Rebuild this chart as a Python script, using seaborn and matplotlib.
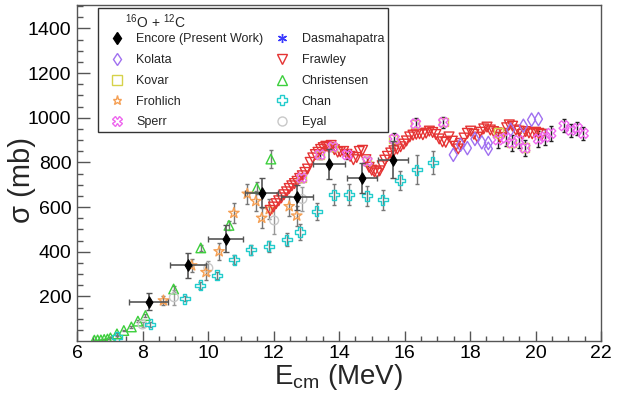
import matplotlib
matplotlib.use("Agg")
import matplotlib.pyplot as plt
from matplotlib.lines import Line2D
import pandas as pd
import seaborn as sns

# ---------------- data: 16O + 12C fusion cross sections ----------------
encore_e = [8.19, 9.38, 10.54, 11.64, 12.71, 13.70, 14.70, 15.64]
encore_s = [175, 339, 459, 663, 643, 793, 730, 812]
encore_ex = [0.60, 0.55, 0.53, 0.51, 0.49, 0.49, 0.47, 0.46]
encore_es = [38, 56, 59, 65, 55, 68, 68, 82]

kolata_e = [17.49, 17.71, 17.92, 18.15, 18.36, 18.56, 18.56, 19.24, 19.63, 19.88, 20.09]
kolata_s = [834, 879, 864, 905, 890, 887, 861, 946, 964, 991, 994]

kovar_e = [12.86, 13.42, 13.81, 14.86, 15.64, 16.32, 17.19, 18.87, 19.27, 19.68]
kovar_s = [730, 834, 869, 805, 905, 973, 981, 934, 887, 866]

frohlich_e = [8.64, 9.50, 9.94, 10.34, 10.79, 11.20, 11.46, 11.64, 11.87, 12.48, 12.71]
frohlich_s = [181, 338, 308, 401, 573, 659, 626, 551, 590, 603, 561]
frohlich_es = [20, 30, 35, 40, 45, 45, 45, 45, 45, 45, 45]

sperr_e = [12.86, 13.42, 13.81, 14.25, 14.86, 15.69, 16.34, 17.19, 18.86, 19.10,
           19.28, 19.49, 19.68, 20.09, 20.29, 20.47, 20.87, 21.08, 21.28, 21.46]
sperr_s = [730, 834, 869, 834, 805, 905, 973, 979, 901, 909,
           887, 898, 864, 905, 914, 930, 964, 944, 952, 930]
sperr_es = [20, 20, 20, 20, 20, 25, 25, 25, 35, 35,
            35, 35, 35, 35, 35, 35, 30, 30, 30, 30]

dasma_e = [6.48, 6.99, 7.51, 8.04, 8.51]
dasma_s = [7, 17, 48, 96, 178]

frawley_e = [11.90, 12.00, 12.08, 12.16, 12.24, 12.32, 12.40, 12.48, 12.56, 12.64,
             12.72, 12.80, 12.88, 12.96, 13.04, 13.12, 13.20, 13.28, 13.36, 13.44,
             13.52, 13.60, 13.68, 13.76, 13.86, 13.96, 14.04, 14.14, 14.24, 14.34,
             14.44, 14.54, 14.62, 14.72, 14.82, 14.92, 15.00, 15.08, 15.16, 15.24,
             15.32, 15.40, 15.48, 15.58, 15.68, 15.78, 15.88, 15.98, 16.06, 16.16,
             16.26, 16.36, 16.46, 16.56, 16.66, 16.76, 16.86, 16.96, 17.06, 17.16,
             17.26, 17.36, 17.46, 17.56, 17.64, 17.72, 17.82, 17.92, 18.02, 18.12,
             18.22, 18.32, 18.42, 18.52, 18.62, 18.72, 18.82, 18.92, 19.02, 19.12,
             19.20, 19.30, 19.40, 19.50, 19.60, 19.70, 19.80, 19.90, 20.00, 20.10,
             20.20]
frawley_s = [585, 600, 615, 628, 641, 655, 668, 683, 695, 705,
             715, 728, 740, 755, 770, 800, 820, 835, 845, 858,
             866, 872, 868, 876, 857, 846, 848, 849, 836, 827,
             812, 822, 849, 854, 812, 778, 765, 758, 752, 762,
             785, 810, 827, 842, 852, 860, 870, 882, 896, 914,
             922, 926, 928, 924, 931, 940, 934, 925, 905, 892,
             890, 914, 895, 872, 860, 885, 909, 930, 940, 926,
             913, 935, 950, 958, 945, 938, 932, 912, 930, 955,
             968, 962, 945, 940, 925, 938, 932, 928, 935, 930,
             925]

christ_e = [6.53, 6.63, 6.73, 6.83, 6.93, 7.02, 7.22, 7.43, 7.66, 7.86,
            8.09, 8.95, 9.78, 10.64, 11.49, 11.92]
christ_s = [4, 5, 5, 7, 9, 14, 32, 47, 63, 89,
            114, 233, 417, 518, 685, 815]
christ_es = [1, 1, 1, 1, 1, 2, 3, 4, 5, 6, 8, 12, 15, 20, 25, 40]

chan_e = [7.22, 8.24, 9.29, 9.77, 10.27, 10.80, 11.30, 11.85, 12.40, 12.81,
          13.32, 13.85, 14.31, 14.86, 15.33, 15.86, 16.37, 16.86]
chan_s = [18, 74, 190, 250, 294, 365, 409, 424, 454, 488,
          581, 655, 655, 651, 633, 719, 767, 800]
chan_es = [5, 10, 12, 15, 17, 20, 22, 25, 30, 34,
           37, 48, 48, 45, 45, 42, 66, 52]

eyal_e = [8.00, 8.96, 10.01, 12.02, 12.88]
eyal_s = [74, 196, 327, 540, 636]
eyal_es = [10, 33, 30, 60, 55]

# ---------------- styling ----------------
sns.set_theme(style="ticks")
plt.rcParams["font.family"] = ["Liberation Sans", "DejaVu Sans"]
plt.rcParams["mathtext.fontset"] = "custom"
plt.rcParams["mathtext.rm"] = "Liberation Sans"
plt.rcParams["mathtext.it"] = "Liberation Sans:italic"
plt.rcParams["mathtext.bf"] = "Liberation Sans:bold"

fig = plt.figure(figsize=(6.2, 3.94), dpi=100)
ax = fig.add_axes([77 / 620, 1 - 341 / 394, 524 / 620, 336 / 394])

series = [
    # label, x, y, yerr, marker, color, size, errcolor
    ("Christensen", christ_e, christ_s, christ_es, "^", "#3ccf3c", 48, "#777777"),
    ("Dasmahapatra", dasma_e, dasma_s, None, (6, 2, 0), "#3a3aff", 48, None),
    ("Eyal", eyal_e, eyal_s, eyal_es, "o", "#c8c8c8", 40, "#999999"),
    ("Chan", chan_e, chan_s, chan_es, "P", "#22cccc", 52, "#777777"),
    ("Frohlich", frohlich_e, frohlich_s, frohlich_es, "*", "#f5a055", 62, "#777777"),
    ("Frawley", frawley_e, frawley_s, None, "v", "#e53333", 50, None),
    ("Kolata", kolata_e, kolata_s, None, "d", "#a070f0", 46, None),
    ("Kovar", kovar_e, kovar_s, None, "s", "#d6d24a", 36, None),
    ("Sperr", sperr_e, sperr_s, sperr_es, "X", "#ee66ee", 50, "#222222"),
]

for label, xs, ys, es, mk, col, size, ecol in series:
    df = pd.DataFrame({"E": xs, "sigma": ys})
    if es is not None:
        ax.errorbar(xs, ys, yerr=es, fmt="none", ecolor=ecol, elinewidth=1.0,
                    capsize=1.5, capthick=1.0, zorder=2)
    sns.scatterplot(data=df, x="E", y="sigma", marker=mk, s=size,
                    facecolor="none", edgecolor=col, linewidth=1.0,
                    ax=ax, zorder=3, legend=False)

# present work: filled diamonds with energy and cross-section uncertainties
ax.errorbar(encore_e, encore_s, xerr=encore_ex, yerr=encore_es, fmt="none",
            ecolor="#555555", elinewidth=1.2, capsize=2, capthick=1.0, zorder=4)
sns.scatterplot(x=encore_e, y=encore_s, marker="d", s=34, color="black",
                edgecolor="black", linewidth=0.8, ax=ax, zorder=5, legend=False)

# ---------------- axes ----------------
ax.set_xlim(6, 22)
ax.set_ylim(0, 1505)
ax.set_xticks(range(6, 23, 2))
ax.set_xticks([6 + 0.5 * i for i in range(33)], minor=True)
ax.set_yticks(range(200, 1401, 200))
ax.set_yticks(range(50, 1501, 50), minor=True)
ax.tick_params(axis="both", which="both", direction="in", colors="#555555",
               labelcolor="black", labelsize=14, top=False, right=False)
ax.tick_params(axis="y", which="major", length=9, width=1, pad=4)
ax.tick_params(axis="y", which="minor", length=4.5, width=1)
ax.tick_params(axis="x", which="major", length=7, width=1, pad=3)
ax.tick_params(axis="x", which="minor", length=3.5, width=1)
for sp in ax.spines.values():
    sp.set_color("#555555")
    sp.set_linewidth(1.0)

ax.set_xlabel(r"$\mathregular{E_{cm}}$ (MeV)", fontsize=20)
ax.set_ylabel("σ (mb)", fontsize=21)
ax.xaxis.set_label_coords(0.5, -0.062)
ax.yaxis.set_label_coords(-0.078, 0.48)

# ---------------- legend ----------------
legend_order = [
    ("Encore (Present Work)", "d", "black", True),
    ("Kolata", "d", "#a070f0", False),
    ("Kovar", "s", "#d6d24a", False),
    ("Frohlich", "*", "#f5a055", False),
    ("Sperr", "X", "#ee66ee", False),
    ("Dasmahapatra", (6, 2, 0), "#3a3aff", False),
    ("Frawley", "v", "#e53333", False),
    ("Christensen", "^", "#3ccf3c", False),
    ("Chan", "P", "#22cccc", False),
    ("Eyal", "o", "#c8c8c8", False),
]
handles = [
    Line2D([], [], linestyle="none", marker=mk, markersize=6.5,
           markerfacecolor=(col if filled else "none"), markeredgecolor=col,
           markeredgewidth=1.0)
    for _, mk, col, filled in legend_order
]
labels = [lab for lab, _, _, _ in legend_order]
leg = ax.legend(handles, labels, ncol=2, loc="upper left",
                bbox_to_anchor=(0.040, 0.622, 0.554, 0.369), mode="expand",
                borderaxespad=0, fontsize=9, title="      $^{16}$O + $^{12}$C",
                title_fontsize=10, alignment="left", frameon=True,
                fancybox=False, edgecolor="#333333", framealpha=1,
                handlelength=2.4, handletextpad=0.35, labelspacing=0.7,
                borderpad=0.32, columnspacing=1.0)
leg.get_frame().set_linewidth(1.0)
leg._legend_box.sep = 2

fig.savefig("out.png", dpi=100)
